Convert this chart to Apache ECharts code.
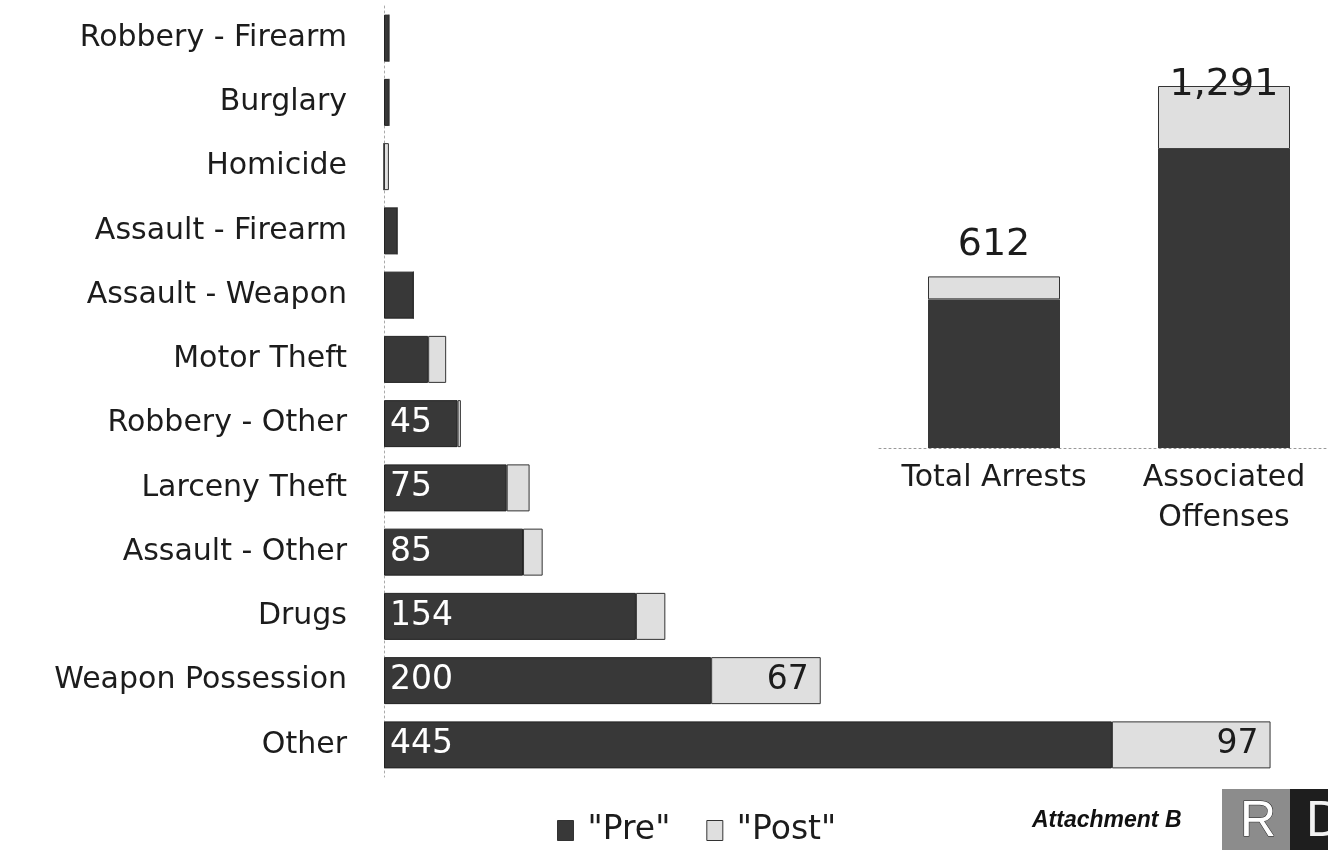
<!DOCTYPE html>
<html><head><meta charset="utf-8">
<script src="https://cdn.jsdelivr.net/npm/echarts@6/dist/echarts.min.js"></script>
<style>html,body{margin:0;padding:0;background:#fff}#c{width:1328px;height:850px}</style>
</head><body><div id="c"></div>
<script>
const categories = ["Robbery - Firearm","Burglary","Homicide","Assault - Firearm","Assault - Weapon","Motor Theft","Robbery - Other","Larceny Theft","Assault - Other","Drugs","Weapon Possession","Other"];
const preValues  = [3, 3, 0, 8, 18, 27, 45, 75, 85, 154, 200, 445];
const postValues = [0, 0, 3, 0, 0, 11, 2, 14, 12, 18, 67, 97];
const preLabelShown  = [false,false,false,false,false,false,true,true,true,true,true,true];
const postLabelShown = [false,false,false,false,false,false,false,false,false,false,true,true];
const summaryCategories = ["Total Arrests", "Associated\nOffenses"];
const summaryPre  = [530, 1066];
const summaryPost = [82, 225];

const FONT = "DejaVu Sans";
const PRE_COLOR = "#383838";
const POST_COLOR = "#dfdfdf";
const TXT = "#1c1c1c";

const chart = echarts.init(document.getElementById('c'), null, {renderer:'canvas'});
const fmt = v => v.toLocaleString('en-US');

chart.setOption({
  animation:false,
  backgroundColor:'#fff',
  textStyle:{fontFamily:FONT},
  grid:[
    {left:384, top:6, width:916, height:771, outerBoundsMode:'none', containLabel:false},
    {left:879, top:86, width:460, height:362, outerBoundsMode:'none', containLabel:false}
  ],
  legend:{
    data:['"Pre"','"Post"'],
    left:557, top:814, padding:0, itemWidth:16, itemHeight:20, itemGap:36,
    icon:'rect',
    itemStyle:{borderColor:'#333', borderWidth:1},
    textStyle:{fontFamily:FONT, fontSize:33, color:TXT, padding:[0,0,0,9]}
  },
  xAxis:[
    {gridIndex:0, type:'value', min:0, max:560, show:false},
    {gridIndex:1, type:'category', data:summaryCategories,
     axisLine:{show:true, lineStyle:{color:'#999', type:[2,3], width:1}},
     axisTick:{show:false},
     axisLabel:{fontFamily:FONT, fontSize:30, color:TXT, margin:10, lineHeight:40, interval:0}}
  ],
  yAxis:[
    {gridIndex:0, type:'category', data:categories, inverse:true,
     axisLine:{show:true, lineStyle:{color:'#aaa', type:[2,3], width:1}},
     axisTick:{show:false},
     axisLabel:{fontFamily:FONT, fontSize:30, color:TXT, margin:37}},
    {gridIndex:1, type:'value', min:0, max:1291, show:false}
  ],
  series:[
    {name:'"Pre"', type:'bar', xAxisIndex:0, yAxisIndex:0, stack:'a', barWidth:47,
     data:preValues, itemStyle:{color:PRE_COLOR, borderColor:'#222', borderWidth:1},
     label:{show:true, position:'insideLeft', distance:6, color:'#fff', fontSize:33, fontFamily:FONT,
            formatter:p=>preLabelShown[p.dataIndex]?String(p.value):''}},
    {name:'"Post"', type:'bar', xAxisIndex:0, yAxisIndex:0, stack:'a', barWidth:47,
     data:postValues, itemStyle:{color:POST_COLOR, borderColor:'#333', borderWidth:1},
     label:{show:true, position:'insideRight', distance:12, color:TXT, fontSize:33, fontFamily:FONT,
            formatter:p=>postLabelShown[p.dataIndex]?String(p.value):''}},
    {name:'"Pre"', type:'bar', xAxisIndex:1, yAxisIndex:1, stack:'b', barWidth:132,
     data:summaryPre, itemStyle:{color:PRE_COLOR}},
    {name:'"Post"', type:'bar', xAxisIndex:1, yAxisIndex:1, stack:'b', barWidth:132,
     data:summaryPost.map((v,i)=>({value:v,
        label: i===1 ? {position:'insideTop', distance:0, offset:[0,-20]} : {position:'top', distance:12}})),
     itemStyle:{color:POST_COLOR, borderColor:'#333', borderWidth:1},
     label:{show:true, color:TXT, fontSize:38, fontFamily:FONT,
            formatter:p=>fmt(summaryPre[p.dataIndex]+summaryPost[p.dataIndex])}}
  ],
  graphic:[
    {type:'text', x:1032, y:821, style:{text:'Attachment B', font:'italic bold 23px "Liberation Sans", Arial', fill:'#111', textVerticalAlign:'middle'}},
    {type:'rect', x:1222, y:789, shape:{width:68, height:61}, style:{fill:'#8c8c8c'}},
    {type:'text', x:1240, y:822, style:{text:'R', font:'50px "Liberation Sans", Arial', fill:'#fff', stroke:'#222', lineWidth:1, textVerticalAlign:'middle'}},
    {type:'rect', x:1290, y:789, shape:{width:38, height:61}, style:{fill:'#1e1e1e'}},
    {type:'text', x:1306, y:822, style:{text:'D', font:'50px "Liberation Sans", Arial', fill:'#f2f2f2', textVerticalAlign:'middle'}}
  ]
});
</script></body></html>
